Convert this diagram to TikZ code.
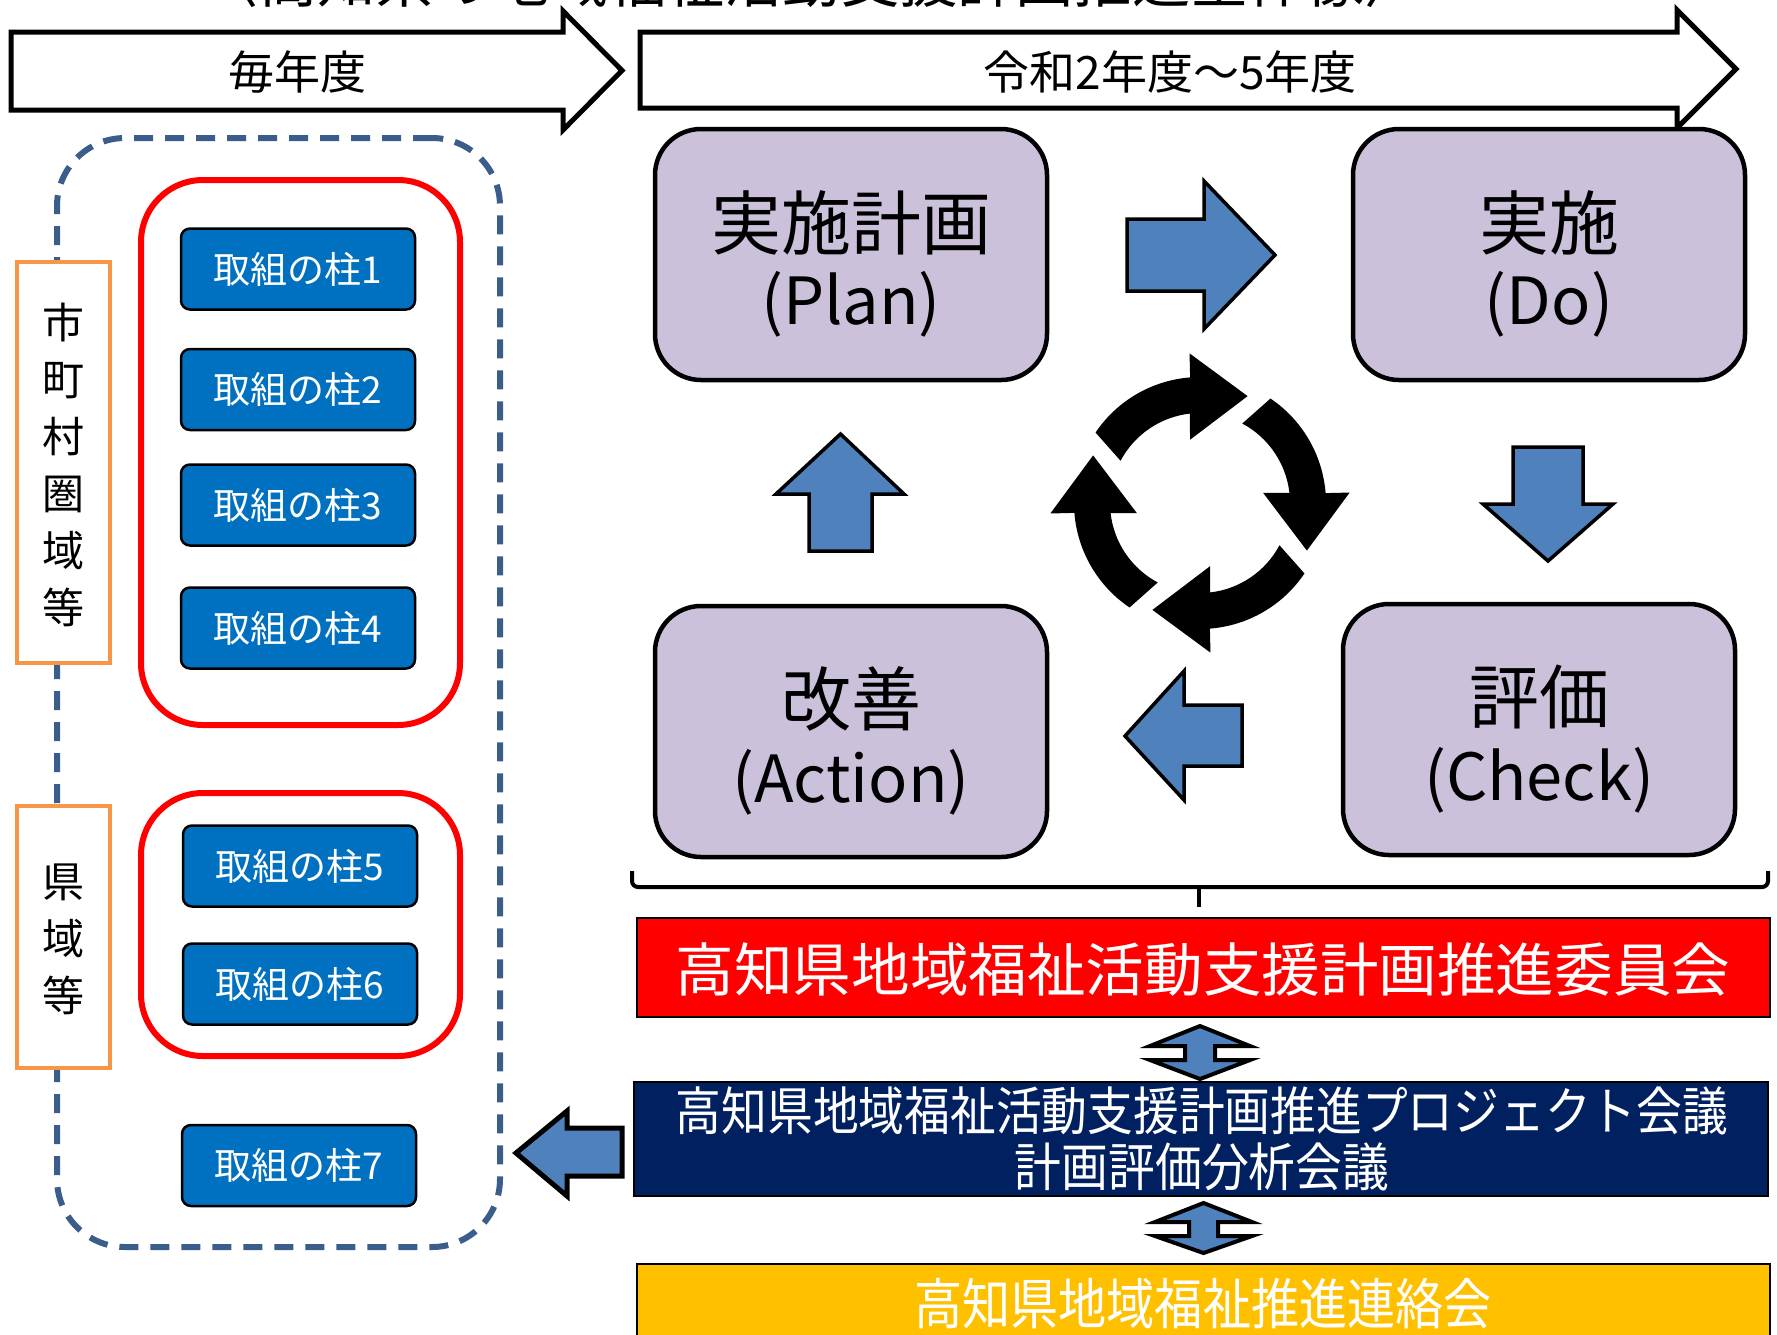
\documentclass[tikz,border=0pt]{standalone}
\usepackage{graphicx}
\usepackage{fontspec}
\setmainfont{Noto Sans CJK JP}
\definecolor{lav}{HTML}{CCC1DA}
\definecolor{arrblue}{HTML}{4F81BD}
\definecolor{pillarc}{HTML}{0070C0}
\definecolor{dashblue}{HTML}{3A5D8C}
\definecolor{orangeb}{HTML}{F79646}
\definecolor{navyb}{HTML}{002060}
\definecolor{goldb}{HTML}{FFC000}
\newcommand{\fsz}[1]{\fontsize{#1}{#1}\selectfont}
\begin{document}
\begin{tikzpicture}[x=1pt,y=-1pt,
  pdca/.style={draw=black, line width=4.5pt, fill=lav, rounded corners=46pt, minimum width=392pt, minimum height=251pt, inner sep=0pt},
  pillarbox/.style={draw=black, line width=2.5pt, fill=pillarc, rounded corners=9pt, minimum width=234pt, minimum height=81pt, inner sep=0pt, text=white, font=\fsz{37}},
  redgroup/.style={draw=red, line width=6pt, rounded corners=62pt, minimum width=319pt, inner sep=0pt},
  areabox/.style={draw=orangeb, line width=4.5pt, fill=white, minimum width=93pt, inner sep=0pt},
  blockarrow/.style={draw=black, line width=3.5pt, fill=arrblue, line join=miter},
  timearrow/.style={draw=black, line width=5pt, fill=white, line join=miter},
  bar/.style={draw=black, line width=1.5pt, minimum width=1133pt, inner sep=0pt},
  label/.style={inner sep=0pt},
]
\useasboundingbox (0,0) rectangle (1777,1334);

% cut-off title
\node[label, font=\fsz{60}] (title) at (812,-20) {\scalebox{0.97}[1]{〈高知県の地域福祉活動支援計画推進全体像〉}};

% time arrows
\draw[timearrow] (11,32) -- (563,32) -- (563,11) -- (622,70.5) -- (563,130) -- (563,110) -- (11,110) -- cycle;
\node[label, font=\fsz{46}] (yearly) at (297,72) {毎年度};
\draw[timearrow] (640,32) -- (1677,32) -- (1677,10) -- (1736,69) -- (1677,128) -- (1677,108) -- (640,108) -- cycle;
\node[label, font=\fsz{46}] (period) at (1170,72) {令和2年度～5年度};

% left region
\node[draw=dashblue, line width=6pt, dash pattern=on 19pt off 12pt, rounded corners=68pt, minimum width=443pt, minimum height=1109pt, inner sep=0pt] (region) at (278.5,692.5) {};
\node[areabox, minimum height=401pt] (muni) at (63.5,462.5) {};
\node[label, align=center, font=\fontsize{42}{57}\selectfont] (munitext) at (63.5,464.5) {市\\町\\村\\圏\\域\\等};
\node[areabox, minimum height=262pt] (pref) at (63.5,937) {};
\node[label, align=center, font=\fontsize{42}{57}\selectfont] (preftext) at (63.5,939) {県\\域\\等};

\node[redgroup, minimum height=545pt] (grpA) at (300.5,452.5) {};
\node[redgroup, minimum height=263pt] (grpB) at (300.5,924.5) {};

\node[pillarbox] (p1) at (298,269) {取組の柱1};
\node[pillarbox] (p2) at (298,389.5) {取組の柱2};
\node[pillarbox] (p3) at (298,505) {取組の柱3};
\node[pillarbox] (p4) at (298,628) {取組の柱4};
\node[pillarbox] (p5) at (300,866) {取組の柱5};
\node[pillarbox] (p6) at (300,984) {取組の柱6};
\node[pillarbox] (p7) at (299,1165.5) {取組の柱7};

% PDCA boxes
\node[pdca] (plan) at (851,254.5) {};
\node[label, font=\fsz{70}] (planja) at (851,223) {実施計画};
\node[label, font=\fsz{65}] (planen) at (851,304) {(Plan)};
\node[pdca] (do) at (1549,254.5) {};
\node[label, font=\fsz{70}] (doja) at (1549,223) {実施};
\node[label, font=\fsz{65}] (doen) at (1549,304) {(Do)};
\node[pdca] (act) at (851,731.5) {};
\node[label, font=\fsz{70}] (actja) at (851,699) {改善};
\node[label, font=\fsz{65}] (acten) at (851,782) {(Action)};
\node[pdca] (chk) at (1539,729.5) {};
\node[label, font=\fsz{70}] (chkja) at (1539,697) {評価};
\node[label, font=\fsz{65}] (chken) at (1539,780) {(Check)};

% block arrows of the cycle
\draw[blockarrow] (1127,219) -- (1204,219) -- (1204,181) -- (1275,255) -- (1204,329) -- (1204,291) -- (1127,291) -- cycle;
\draw[blockarrow] (1513,447) -- (1583,447) -- (1583,504) -- (1613,504) -- (1548,561) -- (1483,504) -- (1513,504) -- cycle;
\draw[blockarrow] (1242,705) -- (1184,705) -- (1184,671) -- (1125,736) -- (1184,800) -- (1184,766) -- (1242,766) -- cycle;
\draw[blockarrow] (809,551) -- (809,494) -- (776,494) -- (840.5,434) -- (904,494) -- (872,494) -- (872,551) -- cycle;

% cycle icon
\begin{scope}[shift={(1200,503)}, x=1pt, y=1pt]
\foreach \r in {0,-90,-180,-270} {
  \fill[black, rotate=\r] (146:126) arc[start angle=146, end angle=94.5, radius=126] -- (94:150) -- (66:117) -- (99:64) -- (96.4:90) arc[start angle=96.4, end angle=152, radius=90] -- cycle;
}
\end{scope}

% brace
\draw[line width=4pt, rounded corners=6pt] (632,871) -- (632,887) -- (1768,887) -- (1768,871);
\draw[line width=4pt] (1199,887) -- (1199,907);

% bars
\node[bar, fill=red, minimum height=99pt] (committee) at (1203.5,967.5) {};
\node[label, font=\fsz{58}, text=white] (committeetext) at (1203,970) {\scalebox{1.01}[1]{高知県地域福祉活動支援計画推進委員会}};

\draw[blockarrow, line width=4pt] (1200,1026) -- (1250,1046) -- (1215,1046) -- (1215,1060) -- (1250,1060) -- (1200,1079) -- (1150,1060) -- (1185,1060) -- (1185,1046) -- (1150,1046) -- cycle;

\node[bar, fill=navyb, minimum height=114pt, minimum width=1134pt] (project) at (1201,1139) {};
\node[label, font=\fsz{52}, text=white] (projecttext1) at (1202,1111) {\scalebox{0.88}[1]{高知県地域福祉活動支援計画推進プロジェクト会議}};
\node[label, font=\fsz{52}, text=white] (projecttext2) at (1202,1167) {\scalebox{0.9}[1]{計画評価分析会議}};

\draw[blockarrow, line width=4pt] (1203.5,1203) -- (1252,1222) -- (1218,1222) -- (1218,1236) -- (1252,1236) -- (1203.5,1253) -- (1155,1236) -- (1189,1236) -- (1189,1222) -- (1155,1222) -- cycle;

\node[bar, fill=goldb, minimum height=96pt] (liaison) at (1203.5,1312) {};
\node[label, font=\fsz{55}, text=white] (liaisontext) at (1203,1304) {\scalebox{0.875}[1]{高知県地域福祉推進連絡会}};

% arrow to the left region
\draw[blockarrow, line width=5pt] (622,1128) -- (567,1128) -- (567,1111) -- (516,1153) -- (567,1196) -- (567,1176) -- (622,1176) -- cycle;
\end{tikzpicture}
\end{document}
